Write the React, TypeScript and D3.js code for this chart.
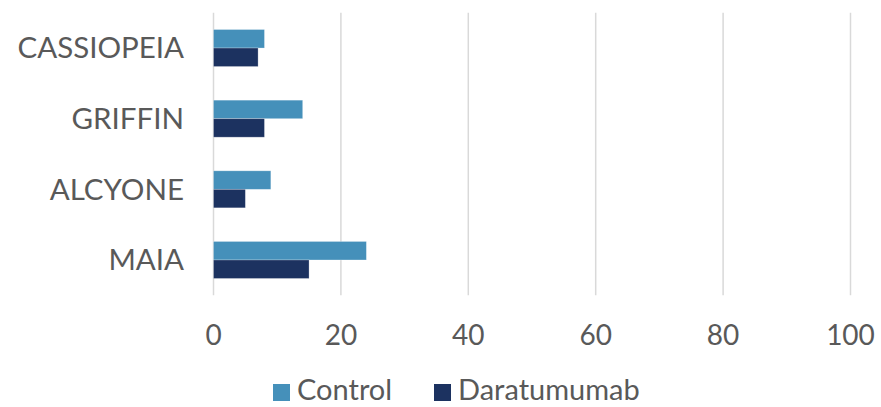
import React from "react";
import * as d3 from "d3";

const categories = ["CASSIOPEIA", "GRIFFIN", "ALCYONE", "MAIA"];
const seriesNames = ["Control", "Daratumumab"];
const controlValues = [8, 14, 9, 24];
const daraValues = [7, 8, 5, 15];
const xTicks = [0, 20, 40, 60, 80, 100];
const colors = ["#4590BA", "#1C3260"];

const W = 881;
const H = 407;
const FONT = "Lato, 'Open Sans', sans-serif";
const TEXT = "#595959";

export default function App() {
  const x = d3.scaleLinear().domain([0, 100]).range([213.5, 850.5]);
  const y = d3
    .scaleBand<string>()
    .domain(categories)
    .range([12.7, 295.3])
    .paddingInner(0.476)
    .paddingOuter(0.238);
  const inner = d3
    .scaleBand<string>()
    .domain(seriesNames)
    .range([0, y.bandwidth()]);
  const series = [controlValues, daraValues];
  const legendX = [273, 434];

  return (
    <svg
      width={W}
      height={H}
      style={{ position: "absolute", left: 0, top: 0, background: "#fff" }}
    >
      {xTicks.map((t) => (
        <line
          key={"g" + t}
          x1={x(t)}
          x2={x(t)}
          y1={12.7}
          y2={295.3}
          stroke="#D9D9D9"
          strokeWidth={1.5}
        />
      ))}
      {categories.map((c, i) =>
        series.map((vals, s) => (
          <rect
            key={c + s}
            x={x(0)}
            y={(y(c) as number) + (inner(seriesNames[s]) as number)}
            width={x(vals[i]) - x(0)}
            height={inner.bandwidth()}
            fill={colors[s]}
            stroke="#fff"
            strokeOpacity={0.35}
            strokeWidth={0.75}
          />
        ))
      )}
      {categories.map((c) => (
        <text
          key={"l" + c}
          x={184}
          y={(y(c) as number) + y.bandwidth() / 2}
          dy="0.35em"
          textAnchor="end"
          fontFamily={FONT}
          fontSize={29.5}
          fill={TEXT}
        >
          {c}
        </text>
      ))}
      {xTicks.map((t) => (
        <text
          key={"t" + t}
          x={x(t)}
          y={345}
          textAnchor="middle"
          fontFamily={FONT}
          fontSize={28}
          fill={TEXT}
        >
          {t}
        </text>
      ))}
      {seriesNames.map((name, s) => (
        <g key={"leg" + name}>
          <rect x={legendX[s]} y={384} width={17} height={17} fill={colors[s]} />
          <text
            x={legendX[s] + 24}
            y={400}
            fontFamily={FONT}
            fontSize={29}
            fill={TEXT}
          >
            {name}
          </text>
        </g>
      ))}
    </svg>
  );
}
